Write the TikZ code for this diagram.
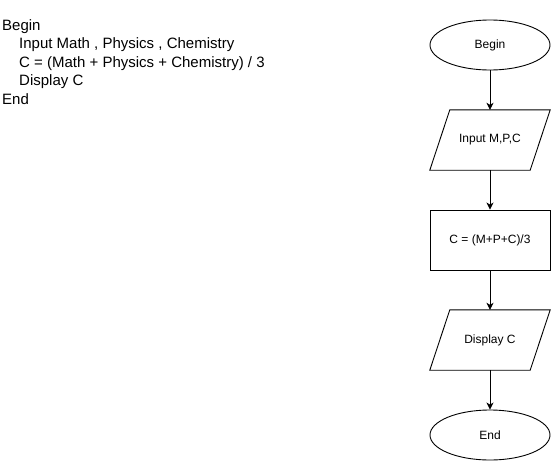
\documentclass[tikz,border=0pt]{standalone}
\usepackage{fontspec}
\setmainfont{Liberation Sans}
\usetikzlibrary{shapes.geometric,arrows.meta,calc}
\begin{document}
\begin{tikzpicture}[x=1pt,y=-1pt,
  every node/.style={inner sep=0pt},
  code/.style={anchor=base west,font=\fontsize{15}{18}\selectfont},
  term/.style={draw,line width=0.9pt,ellipse,minimum width=120pt,minimum height=50pt,font=\fontsize{12}{14}\selectfont},
  io/.style={rectangle,minimum width=120pt,minimum height=60pt,font=\fontsize{12}{14}\selectfont},
  iobox/.style={draw,line width=0.9pt,line join=miter},
  proc/.style={draw,line width=0.9pt,rectangle,minimum width=120pt,minimum height=60pt,font=\fontsize{12}{14}\selectfont},
  flow/.style={line width=0.9pt,-{Stealth[length=7pt,width=7pt,inset=2pt]}}]
\useasboundingbox (0,0) rectangle (551,461);
\node[code] (l1) at (2,30) {Begin};
\node[code] (l2) at (19,48.5) {Input Math , Physics , Chemistry};
\node[code] (l3) at (19,67) {C = (Math + Physics + Chemistry) / 3};
\node[code] (l4) at (19,85.5) {Display C};
\node[code] (l5) at (2,104) {End};
\node[term] (b) at (490,45) {Begin};
\node[io] (in) at (490,140) {Input M,P,C};
\draw[iobox] (in.south west) -- ($(in.north west)+(20,0)$) -- (in.north east) -- ($(in.south east)+(-20,0)$) -- cycle;
\node[proc] (c) at (490,240) {C = (M+P+C)/3};
\node[io] (d) at (490,340) {Display C};
\draw[iobox] (d.south west) -- ($(d.north west)+(20,0)$) -- (d.north east) -- ($(d.south east)+(-20,0)$) -- cycle;
\node[term] (e) at (490,435) {End};
\draw[flow] (b) -- (in);
\draw[flow] (in) -- (c);
\draw[flow] (c) -- (d);
\draw[flow] (d) -- (e);
\end{tikzpicture}
\end{document}
